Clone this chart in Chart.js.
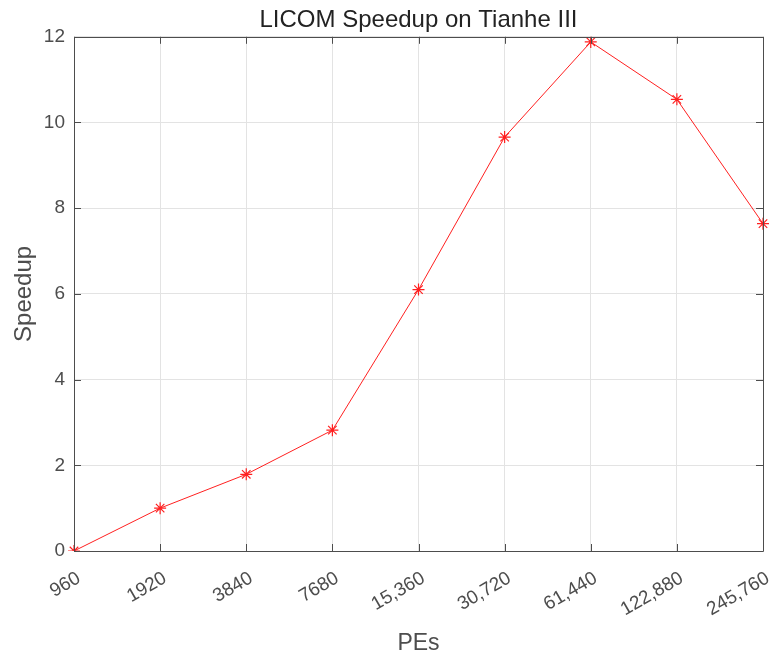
<!DOCTYPE html>
<html>
<head>
<meta charset="utf-8">
<script src="https://cdn.jsdelivr.net/npm/chart.js@4"></script>
<style>
  html, body { margin: 0; padding: 0; background: #fff; }
  #wrap { width: 778px; height: 653px; }
</style>
</head>
<body>
<div id="wrap"><canvas id="myChart" width="778" height="653"></canvas></div>
<script>
var peLabels = ['960', '1920', '3840', '7680', '15,360', '30,720', '61,440', '122,880', '245,760'];
var speedup = [0, 1.0, 1.79, 2.82, 6.1, 9.66, 11.88, 10.54, 7.64];
var yTicks = [0, 2, 4, 6, 8, 10, 12];

var axisColor = '#4d4d4d';
var fontFam = 'Liberation Sans, Arial, sans-serif';

// MATLAB-style box with inward ticks
var boxTicks = {
    id: 'boxTicks',
    afterDraw: function (chart) {
        var c = chart.ctx, a = chart.chartArea;
        var xs = chart.scales.x, ys = chart.scales.y;
        var len = 7;
        c.save();
        c.strokeStyle = axisColor;
        c.lineWidth = 1;
        c.beginPath();
        c.rect(Math.round(a.left) + 0.5, Math.round(a.top) + 0.5,
               Math.round(a.right - a.left), Math.round(a.bottom - a.top));
        xs.ticks.forEach(function (t, i) {
            var x = Math.round(xs.getPixelForTick(i)) + 0.5;
            c.moveTo(x, a.bottom); c.lineTo(x, a.bottom - len);
            c.moveTo(x, a.top); c.lineTo(x, a.top + len);
        });
        ys.ticks.forEach(function (t, i) {
            var y = Math.round(ys.getPixelForTick(i)) + 0.5;
            c.moveTo(a.left, y); c.lineTo(a.left + len, y);
            c.moveTo(a.right, y); c.lineTo(a.right - len, y);
        });
        c.stroke();
        c.restore();
    }
};

var ctx = document.getElementById('myChart').getContext('2d');
var myChart = new Chart(ctx, {
    type: 'line',
    data: {
        labels: peLabels,
        datasets: [{
            label: 'Speedup',
            data: speedup,
            borderColor: '#ff2020',
            backgroundColor: '#ff2020',
            borderWidth: 1,
            pointStyle: 'star',
            pointRadius: 6,
            pointHoverRadius: 6,
            pointBorderWidth: 1.2,
            tension: 0,
            fill: false
        }]
    },
    options: {
        responsive: false,
        animation: false,
        layout: { padding: { top: 0, right: 15, left: 6, bottom: 0 } },
        plugins: {
            legend: { display: false },
            tooltip: { enabled: false },
            title: {
                display: true,
                fullSize: false,
                text: 'LICOM Speedup on Tianhe III',
                color: '#222',
                font: { family: fontFam, size: 24, weight: 'normal' },
                padding: { top: 6, bottom: 2 }
            }
        },
        scales: {
            x: {
                type: 'category',
                offset: false,
                afterFit: function (s) { s.paddingLeft = 0; s.paddingRight = 0; s.height = 102; },
                grid: { color: '#e3e3e3', drawTicks: false },
                border: { display: false },
                ticks: {
                    color: axisColor,
                    font: { family: fontFam, size: 19 },
                    minRotation: 30,
                    maxRotation: 30,
                    padding: 16,
                    labelOffset: 5,
                    autoSkip: false
                },
                title: {
                    display: true,
                    text: 'PEs',
                    color: axisColor,
                    font: { family: fontFam, size: 23, lineHeight: 1 },
                    padding: { top: 0, bottom: -2 }
                }
            },
            y: {
                min: 0,
                max: 12,
                afterFit: function (s) { s.width = 68; },
                afterBuildTicks: function (scale) {
                    scale.ticks = yTicks.map(function (v) { return { value: v }; });
                },
                grid: { color: '#e3e3e3', drawTicks: false },
                border: { display: false },
                ticks: {
                    color: axisColor,
                    font: { family: fontFam, size: 19 },
                    padding: 9
                },
                title: {
                    display: true,
                    text: 'Speedup',
                    color: axisColor,
                    font: { family: fontFam, size: 24 },
                    padding: { bottom: 2 }
                }
            }
        }
    },
    plugins: [boxTicks]
});
</script>
</body>
</html>
